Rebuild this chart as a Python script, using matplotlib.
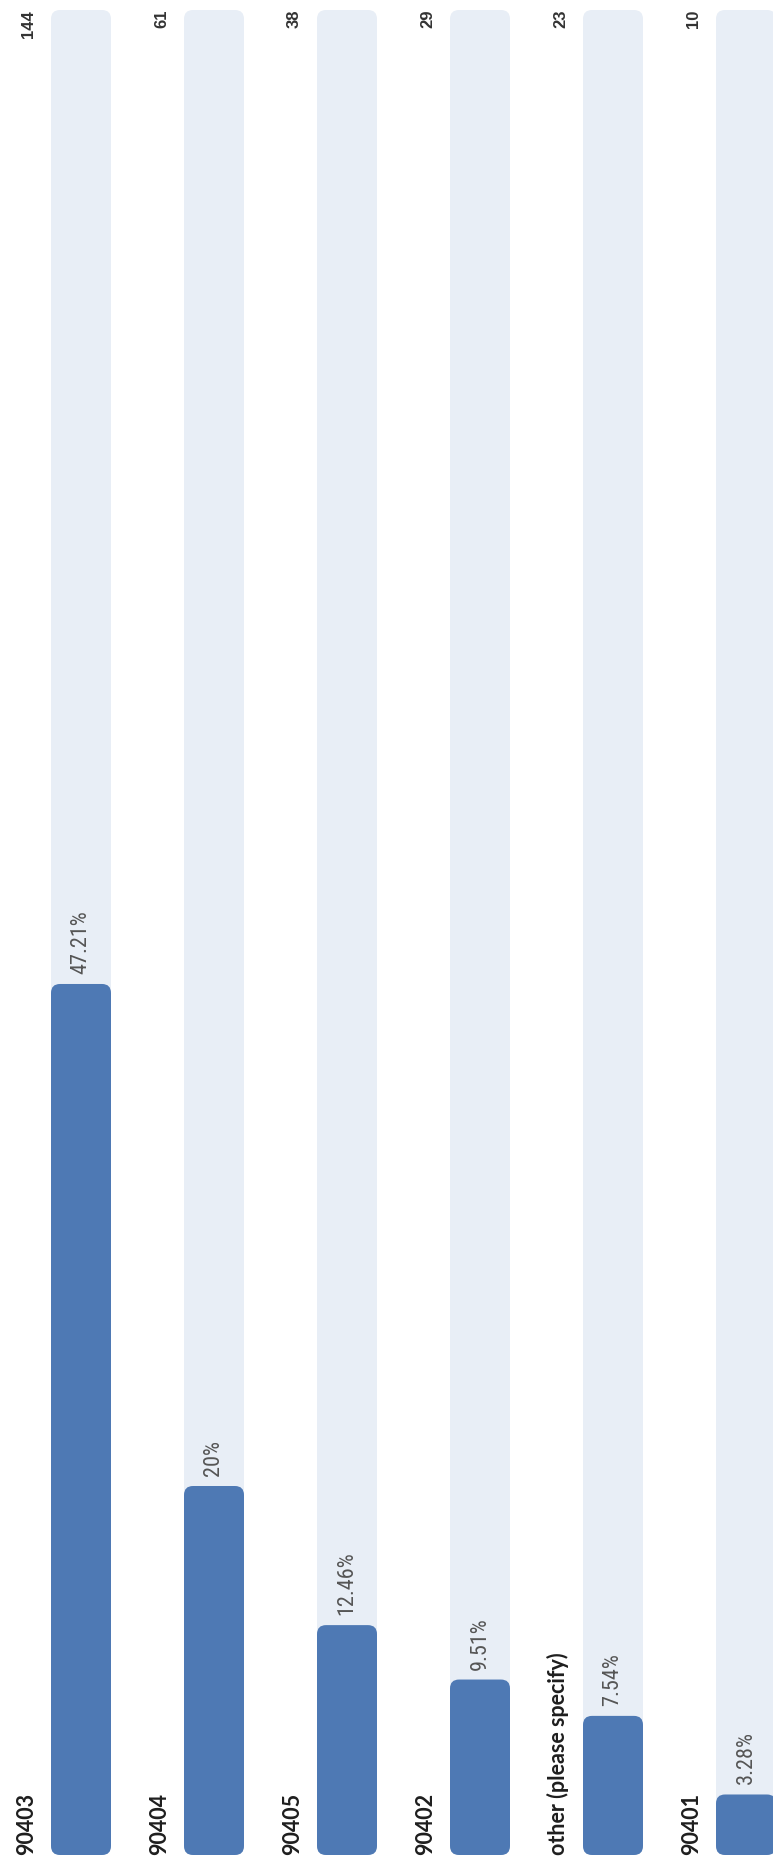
import matplotlib
matplotlib.use("Agg")
import matplotlib.pyplot as plt
from matplotlib import font_manager
from matplotlib.patches import FancyBboxPatch

categories = ["90403", "90404", "90405", "90402", "other (please specify)", "90401"]
counts = [144, 61, 38, 29, 23, 10]
percents = [47.21, 20, 12.46, 9.51, 7.54, 3.28]

BLUE = "#4e79b4"
TRACK = "#e8eef6"

# narrow font for the percentage labels, if one is around
names = {f.name for f in font_manager.fontManager.ttflist}
narrow = [n for n in ["Liberation Sans Narrow", "Roboto Condensed", "Open Sans Condensed"] if n in names]
condensed_dv = any(f.name == "DejaVu Sans" and f.stretch == "condensed"
                   for f in font_manager.fontManager.ttflist)
if narrow:
    pct_font = dict(family=[narrow[0], "DejaVu Sans"], fontsize=16)
elif condensed_dv:
    pct_font = dict(family="DejaVu Sans", fontstretch="condensed", fontsize=15)
else:
    pct_font = dict(family="DejaVu Sans", fontsize=13.5)

W, H = 773, 1869
fig = plt.figure(figsize=(W / 100, H / 100), dpi=100)
ax = fig.add_axes([0, 0, 1, 1])

# pixel layout: bars every 133 px, first centred at 81 px, zero line 14 px from bottom
step, x0 = 133, 81
bottom, top = 14, 1859
ax.set_xlim(-x0 / step, (W - x0) / step)
ax.set_ylim(-bottom / (top - bottom) * 100, (H - bottom) / (top - bottom) * 100)
ax.axis("off")
px_x = 1 / step
px_y = 100 / (top - bottom)
aspect = px_y / px_x


def round_bars(bars, color, z):
    for b in bars:
        x, y, w, h = b.get_x(), b.get_y(), b.get_width(), b.get_height()
        b.remove()
        ax.add_patch(FancyBboxPatch((x, y), w, h,
                                    boxstyle=f"round,pad=0,rounding_size={9 * px_x}",
                                    mutation_aspect=aspect, fc=color, ec="none", zorder=z))


pos = list(range(len(categories)))
width = 60 * px_x
round_bars(ax.bar(pos, [100] * len(pos), width=width), TRACK, 1)
round_bars(ax.bar(pos, percents, width=width), BLUE, 2)

for i, (cat, n, p) in enumerate(zip(categories, counts, percents)):
    ax.text(i - 48 * px_x, 0, cat, rotation=90, rotation_mode="anchor",
            ha="left", va="baseline", fontsize=15.5, fontweight="bold",
            family=["Lato", "DejaVu Sans"], color="#1e1e1e")
    ax.text(i - 48 * px_x, 100, str(n), rotation=90, rotation_mode="anchor",
            ha="right", va="baseline", fontsize=12, fontweight="bold",
            family=["Liberation Sans", "DejaVu Sans"], color="#333333")
    ax.text(i, p + 10 * px_y, f"{p:g}%", rotation=90, rotation_mode="anchor",
            ha="left", va="center", color="#555555", zorder=3, **pct_font)

fig.savefig("out.png", dpi=100)
